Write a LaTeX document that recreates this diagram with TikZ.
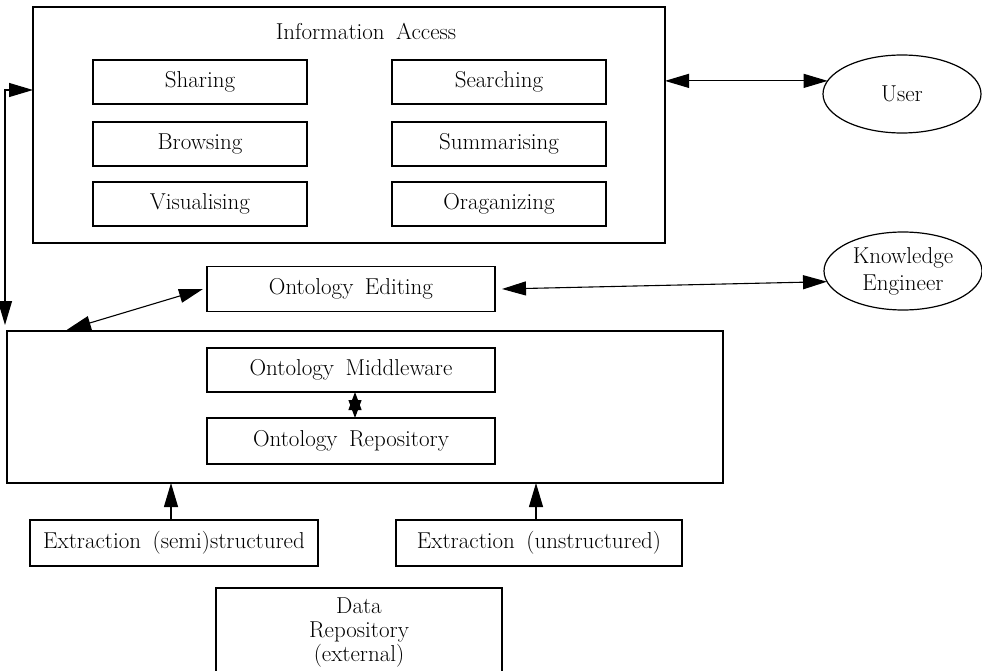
\documentclass[tikz,border=0pt]{standalone}
\usetikzlibrary{arrows.meta,shapes.geometric}
\begin{document}
\begin{tikzpicture}[x=1pt,y=-1pt,
  font=\fontsize{23}{24}\selectfont,
  box/.style={draw, line width=1.2pt, rectangle, inner sep=0pt, outer sep=0pt},
  tool/.style={box, minimum width=214pt, minimum height=44pt},
  mid/.style={box, minimum width=288pt, minimum height=45pt},
  oval/.style={draw, line width=1.2pt, ellipse, inner sep=0pt, outer sep=0pt,
    minimum width=158pt, minimum height=78pt, align=center},
  tip/.tip={Triangle[length=24pt,width=14pt]},
  smalltip/.tip={Triangle[length=18pt,width=13pt]},
  link/.style={line width=1.1pt, -tip},
  dlink/.style={line width=1.1pt, tip-tip}]
\useasboundingbox (0,0) rectangle (982,671);
\clip (0,0) rectangle (982,671);

% information access layer
\node[box, minimum width=632pt, minimum height=236pt] (ia) at (349,125) {};
\node[anchor=base] (iatitle) at (366,40) {Information\hspace{0.5em}Access};
\node[tool] (sharing)   at (200,82)  {Sharing};
\node[tool] (searching) at (499,82)  {Searching};
\node[tool] (browsing)  at (200,144) {Browsing};
\node[tool] (summ)      at (499,144) {Summarising};
\node[tool] (visual)    at (200,204) {Visualising};
\node[tool] (organ)     at (499,204) {Oraganizing};

% actors
\node[oval] (user) at (902,94) {User};
\node[oval, font=\fontsize{23}{27}\selectfont] (ke) at (903,271) {Knowledge\\Engineer};

% editing and ontology layer
\node[mid] (editing) at (351,289) {Ontology\hspace{0.5em}Editing};
\node[box, minimum width=716pt, minimum height=152pt] (core) at (365,407) {};
\node[mid, minimum height=44pt] (mw) at (351,370) {Ontology\hspace{0.5em}Middleware};
\node[mid, minimum height=46pt] (repo) at (351,441) {Ontology\hspace{0.5em}Repository};

% extraction and data sources
\node[box, minimum width=288pt, minimum height=46pt] (exs) at (174,543) {Extraction\hspace{0.5em}(semi)structured};
\node[box, minimum width=286pt, minimum height=46pt] (exu) at (539,543) {Extraction\hspace{0.5em}(unstructured)};
\node[box, minimum width=286pt, minimum height=112pt, anchor=north] (data) at (359,588) {};
\node[anchor=north, align=center] (datatxt) at ([yshift=-6pt]data.north) {Data\\Repository\\(external)};

% connectors
\draw[dlink] (ia.east |- user.170) -- (user.170);
\draw[dlink] ([xshift=7pt]editing.east) -- (ke.188);
\draw[dlink, shorten >=4pt] ([xshift=-4pt]editing.west) -- ([xshift=56pt]core.north west);
\draw[dlink, shorten >=6pt] ([yshift=35pt]ia.west) -| ([xshift=-2pt]core.north west);
\draw[line width=1.1pt, smalltip-smalltip] ([xshift=4pt]mw.south) -- ([xshift=4pt]repo.north);
\draw[link] ([xshift=-3pt]exs.north) -- ([xshift=-3pt]exs.north |- core.south);
\draw[link] ([xshift=-3pt]exu.north) -- ([xshift=-3pt]exu.north |- core.south);
\end{tikzpicture}
\end{document}
